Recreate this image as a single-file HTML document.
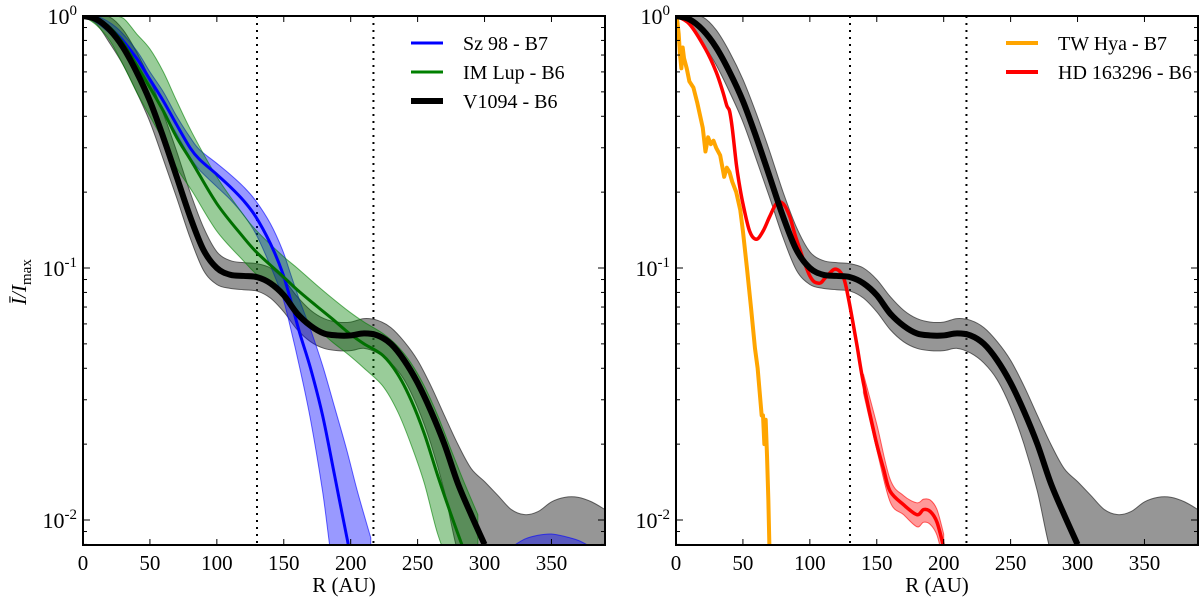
<!DOCTYPE html>
<html><head><meta charset="utf-8"><style>
body{margin:0;background:#fff;}
svg text{font-family:"Liberation Serif","DejaVu Serif",serif;}
</style></head><body>
<svg id="chart" width="1200" height="599" xmlns="http://www.w3.org/2000/svg"></svg>
<script>
// ---- data ----
const xTicks=[0,50,100,150,200,250,300,350];
const ringLines=[130,217];
const v1094R=[0,10,20,30,40,50,60,70,80,90,100,110,120,130,140,150,160,170,180,190,200,210,220,230,240,250,260,270,280,290,300];
const v1094V=[1,0.97,0.88,0.75,0.6,0.46,0.33,0.23,0.16,0.118,0.1,0.094,0.093,0.092,0.087,0.078,0.066,0.059,0.055,0.054,0.054,0.055,0.054,0.05,0.043,0.035,0.027,0.02,0.014,0.0105,0.008];
const v1094BandR=[0,10,20,30,40,50,60,70,80,90,100,110,120,130,140,150,160,170,180,190,200,210,220,230,240,250,260,270,280,290,300,310,320,330,340,350,360,370,380,390];
const v1094Up=[1,1,0.99,0.88,0.72,0.56,0.41,0.29,0.2,0.145,0.116,0.107,0.105,0.104,0.1,0.09,0.077,0.068,0.063,0.061,0.061,0.063,0.062,0.058,0.051,0.043,0.034,0.026,0.02,0.016,0.0142,0.0125,0.011,0.0105,0.0108,0.0118,0.0123,0.0123,0.0118,0.011];
const v1094Lo=[1,0.93,0.78,0.64,0.5,0.38,0.27,0.19,0.132,0.098,0.086,0.083,0.082,0.081,0.076,0.067,0.057,0.051,0.048,0.047,0.047,0.048,0.046,0.042,0.036,0.028,0.02,0.013,0.0075,0.006,0.006,0.006,0.006,0.006,0.006,0.006,0.006,0.006,0.006,0.006];
const sz98R=[0,10,25,40,50,60,70,80,87,100,110,120,129,140,149,155,162,170,179,188,197,205,215];
const sz98V=[1,0.97,0.85,0.68,0.56,0.46,0.37,0.3,0.27,0.235,0.21,0.185,0.16,0.125,0.096,0.075,0.055,0.04,0.026,0.015,0.0086,0.005,0.003];
const sz98Up=[1,1,0.9,0.73,0.6,0.5,0.4,0.33,0.295,0.26,0.235,0.21,0.185,0.15,0.118,0.095,0.074,0.057,0.041,0.028,0.019,0.013,0.0085];
const sz98Lo=[1,0.94,0.8,0.63,0.52,0.42,0.34,0.275,0.245,0.21,0.187,0.162,0.137,0.102,0.077,0.058,0.04,0.025,0.013,0.006,0.004,0.003,0.002];
const sz98OuterR=[320,330,340,350,360,370,380];
const sz98OuterUp=[0.0078,0.0084,0.0087,0.0088,0.0086,0.0083,0.0078];
const imlupR=[0,10,20,30,40,50,60,70,82,100,119,130,149,160,174,186,199,210,224,235,245,255,265,275,285,295];
const imlupV=[1,0.97,0.9,0.78,0.64,0.52,0.42,0.33,0.26,0.18,0.134,0.115,0.093,0.082,0.071,0.063,0.055,0.05,0.045,0.038,0.03,0.022,0.015,0.0105,0.0075,0.005];
const imlupUp=[1,1,1,0.98,0.85,0.74,0.6,0.46,0.34,0.23,0.165,0.14,0.112,0.1,0.086,0.076,0.067,0.061,0.055,0.049,0.042,0.034,0.026,0.019,0.014,0.0105];
const imlupLo=[1,0.92,0.8,0.64,0.5,0.4,0.32,0.25,0.2,0.14,0.108,0.094,0.077,0.067,0.058,0.051,0.045,0.04,0.034,0.027,0.02,0.014,0.0088,0.0065,0.005,0.004];
const twhyaR=[0,1,2,3,4,5,6,8,10,13,16,20,22,24,26,28,30,33,36,38,40,42,45,48,50,53,56,59,61,63,64,65,66,67,68,69,70];
const twhyaV=[1,0.95,0.85,0.7,0.62,0.75,0.68,0.62,0.55,0.52,0.45,0.36,0.29,0.33,0.31,0.32,0.3,0.28,0.23,0.25,0.24,0.22,0.2,0.17,0.14,0.1,0.07,0.048,0.04,0.03,0.026,0.026,0.02,0.025,0.018,0.012,0.007];
const hdR=[0,10,22,30,35,38,40,42,45,47,50,55,60,65,70,75,80,85,90,100,107,112,119,125,129,135,140,149,155,160,170,180,185,190,195,200];
const hdV=[1,0.93,0.74,0.6,0.5,0.44,0.42,0.36,0.26,0.22,0.18,0.14,0.13,0.14,0.16,0.18,0.18,0.16,0.13,0.093,0.087,0.092,0.099,0.092,0.075,0.05,0.035,0.021,0.016,0.013,0.0115,0.0105,0.011,0.0108,0.0098,0.0078];
const hdBandR=[140,150,160,170,180,185,190,195,200];
const hdUp=[0.038,0.024,0.0145,0.0125,0.0117,0.0121,0.012,0.011,0.0088];
const hdLo=[0.032,0.019,0.0118,0.0105,0.0094,0.0098,0.0096,0.0087,0.0068];
const yMajor=[1,0.1,0.01];

// ---- axes ----
const NS="http://www.w3.org/2000/svg";
const svg=document.getElementById('chart');
const T=16,B=545,W=522,XMAX=390,YPX=252;
function sx(p,r){return p.x0+Math.min(r,XMAX)/XMAX*W;}
function sy(v){let y=T-Math.log10(v)*YPX;return Math.min(y,B+40);}
function mk(tag,parent){const e=document.createElementNS(NS,tag);parent.appendChild(e);return e;}
function smooth(pts){
  let d='M'+pts[0][0]+','+pts[0][1];
  for(let i=0;i<pts.length-1;i++){
    const p0=pts[Math.max(0,i-1)],p1=pts[i],p2=pts[i+1],p3=pts[Math.min(pts.length-1,i+2)];
    const c1=[p1[0]+(p2[0]-p0[0])/6,p1[1]+(p2[1]-p0[1])/6];
    const c2=[p2[0]-(p3[0]-p1[0])/6,p2[1]-(p3[1]-p1[1])/6];
    d+=' C'+c1[0]+','+c1[1]+' '+c2[0]+','+c2[1]+' '+p2[0]+','+p2[1];
  }
  return d;
}
const panels=[{x0:83,id:'left'},{x0:676,id:'right'}];
panels.forEach(p=>{
  const g=mk('g',svg);
  
  
  const cp=mk('clipPath',g);cp.setAttribute('id','clip-'+p.id);
  const cr=mk('rect',cp);cr.setAttribute('x',p.x0);cr.setAttribute('y',T);cr.setAttribute('width',W);cr.setAttribute('height',B-T);
  p.plot=mk('g',g);p.plot.setAttribute('clip-path','url(#clip-'+p.id+')');
  
  
  p.g=g;
  ringLines.forEach(r=>{
    const l=mk('line',p.plot);
    
    
    l.setAttribute('x1',sx(p,r));l.setAttribute('x2',sx(p,r));l.setAttribute('y1',T);l.setAttribute('y2',B);
    l.setAttribute('stroke','#000');l.setAttribute('stroke-width','2');l.setAttribute('stroke-dasharray','2 5');
  });
});
function band(p,R,U,L,fill,op,name){
  const up=R.map((r,i)=>[sx(p,r),sy(U[i])]);
  const lo=R.map((r,i)=>[sx(p,r),sy(L[i])]).reverse();
  const d=smooth(up)+' L'+smooth(lo).slice(1)+' Z';
  const e=mk('path',p.plot);
  
  
  e.setAttribute('d',d);e.setAttribute('fill',fill);e.setAttribute('fill-opacity',op);
  e.setAttribute('stroke',fill);e.setAttribute('stroke-opacity',Math.min(1,op*1.5));
}
function line(p,R,V,col,w,name,sm){
  const pts=R.map((r,i)=>[sx(p,r),sy(V[i])]);
  const e=mk('path',p.plot);
  
  
  e.setAttribute('d',sm?smooth(pts):'M'+pts.map(q=>q.join(',')).join(' L'));
  e.setAttribute('fill','none');e.setAttribute('stroke',col);e.setAttribute('stroke-width',w);e.setAttribute('stroke-linejoin','round');
}
const L=panels[0],Rp=panels[1];
band(L,v1094BandR,v1094Up,v1094Lo,'#404040',0.55,'v1094-band');
band(L,sz98R,sz98Up,sz98Lo,'#0000ff',0.4,'sz98-band');
band(L,sz98OuterR,sz98OuterUp,sz98OuterR.map(()=>0.006),'#0000ff',0.4,'sz98-outer-band');
band(L,imlupR,imlupUp,imlupLo,'#008000',0.4,'imlup-band');
line(L,sz98R,sz98V,'#0000ff',3,'sz98-line',true);
line(L,imlupR,imlupV,'#007000',3,'imlup-line',true);
line(L,v1094R,v1094V,'#000',6,'v1094-line',true);
band(Rp,v1094BandR,v1094Up,v1094Lo,'#404040',0.55,'v1094-band');
band(Rp,hdBandR,hdUp,hdLo,'#ff0000',0.4,'hd163296-band');
line(Rp,twhyaR,twhyaV,'#ffa500',4,'twhya-line',false);
line(Rp,hdR,hdV,'#ff0000',3.5,'hd163296-line',true);
line(Rp,v1094R,v1094V,'#000',6,'v1094-line',true);

panels.forEach((p,pi)=>{
  const g=p.g;
  const fr=mk('rect',g);
  
  
  fr.setAttribute('x',p.x0);fr.setAttribute('y',T);fr.setAttribute('width',W);fr.setAttribute('height',B-T);
  fr.setAttribute('fill','none');fr.setAttribute('stroke','#000');fr.setAttribute('stroke-width','2');
  xTicks.forEach(t=>{
    const x=sx(p,t);
    [[B,B-6],[T,T+6]].forEach(a=>{const l=mk('line',g);l.setAttribute('x1',x);l.setAttribute('x2',x);l.setAttribute('y1',a[0]);l.setAttribute('y2',a[1]);l.setAttribute('stroke','#000');});
    const tx=mk('text',g);
    
    
    tx.setAttribute('x',x);tx.setAttribute('y',B+25);tx.setAttribute('text-anchor','middle');tx.setAttribute('font-size','21');tx.textContent=t;
  });
  const xl=mk('text',g);
  
  
  xl.setAttribute('x',p.x0+W/2);xl.setAttribute('y',592);xl.setAttribute('text-anchor','middle');xl.setAttribute('font-size','21');xl.textContent='R (AU)';
  for(let d=0;d>=-2;d--){
    for(let m=1;m<10;m++){
      const v=m*Math.pow(10,d-1);
      if(v<0.008)continue;
      const y=sy(v);const len=m==1?7:4;
      [[p.x0,p.x0+len],[p.x0+W,p.x0+W-len]].forEach(a=>{const l=mk('line',g);l.setAttribute('x1',a[0]);l.setAttribute('x2',a[1]);l.setAttribute('y1',y);l.setAttribute('y2',y);l.setAttribute('stroke','#000');});
    }
  }
  yMajor.forEach(v=>{
    const y=sy(v);
    const tx=mk('text',g);
    
    
    tx.setAttribute('x',p.x0-6);tx.setAttribute('y',y+8);tx.setAttribute('text-anchor','end');tx.setAttribute('font-size','22');
    const e=Math.round(Math.log10(v));
    tx.innerHTML='10<tspan dy="-9" font-size="15">'+e+'</tspan>';
  });
});
const yl=mk('text',svg);


yl.setAttribute('transform','translate(26,282) rotate(-90)');yl.setAttribute('text-anchor','middle');yl.setAttribute('font-size','21');yl.setAttribute('font-style','italic');
yl.innerHTML='I&#772;/I<tspan dy="5" font-size="15" font-style="normal">max</tspan>';

function legend(x,entries){
  entries.forEach((e,i)=>{
    const y=43+i*29;
    const l=mk('line',svg);
    
    
    l.setAttribute('x1',x);l.setAttribute('x2',x+32);l.setAttribute('y1',y);l.setAttribute('y2',y);l.setAttribute('stroke',e[1]);l.setAttribute('stroke-width',e[2]);
    const t=mk('text',svg);
    
    
    t.setAttribute('x',x+52);t.setAttribute('y',y+7);t.setAttribute('font-size','20');t.textContent=e[0];
  });
}
legend(411,[['Sz 98 - B7','#0000ff',3],['IM Lup - B6','#008000',3],['V1094 - B6','#000',6]]);
legend(1006,[['TW Hya - B7','#ffa500',4],['HD 163296 - B6','#ff0000',4]]);
</script>
</body></html>
